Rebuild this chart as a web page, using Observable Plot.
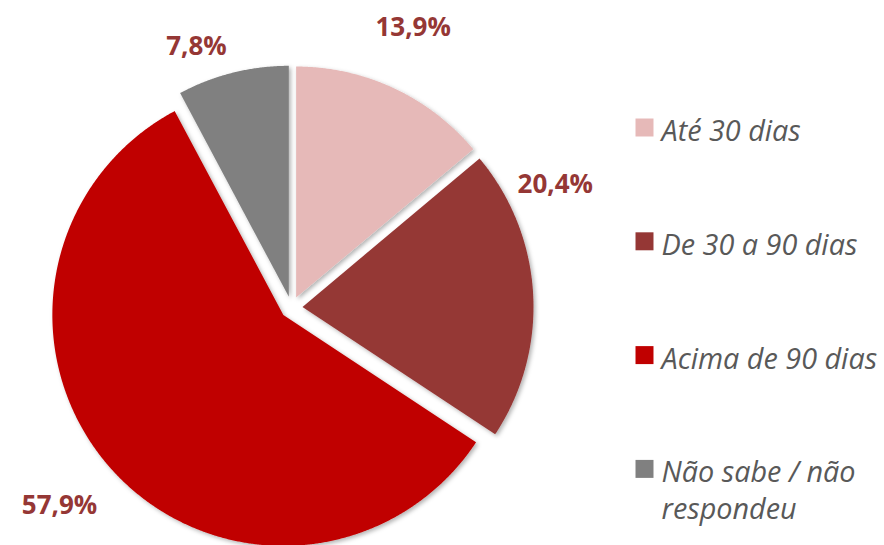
<!DOCTYPE html>
<html><head><meta charset="utf-8">
<script src="https://cdn.jsdelivr.net/npm/d3@7"></script>
<script src="https://cdn.jsdelivr.net/npm/@observablehq/plot@0.6"></script>
<style>body{margin:0;background:#fff;overflow:hidden}</style>
</head><body><div id="chart"></div>
<script>
// ---- data ----
const categories = ["Até 30 dias", "De 30 a 90 dias", "Acima de 90 dias", "Não sabe / não respondeu"];
const values = [13.9, 20.4, 57.9, 7.8];
const valueLabels = ["13,9%", "20,4%", "57,9%", "7,8%"];
const legendLabels = ["Até 30 dias", "De 30 a 90 dias", "Acima de 90 dias", "Não sabe / não\nrespondeu"];
const colors = ["#E6B9B8", "#953735", "#C00000", "#808080"];

// ---- layout ----
const W = 884, H = 545;
const cx = 291, cy = 307, R = 231, explode = 11;
const labelPolar = [[23.5, 305], [65, 291], [229.5, 305], [340, 278]]; // angle (deg), radius
const legendX = 644, legendTextX = 661, legendY0 = 127, legendStep = 113.8;
const fontFamily = "'Open Sans', 'Noto Sans', sans-serif";

const arcs = d3.pie().sort(null).value(d => d)(values);
const points = [];
arcs.forEach((a, i) => {
  const mid = (a.startAngle + a.endAngle) / 2;
  const ox = cx + explode * Math.sin(mid), oy = cy - explode * Math.cos(mid);
  points.push({cat: categories[i], x: ox, y: oy});
  const n = Math.max(2, Math.ceil((a.endAngle - a.startAngle) / 0.005));
  for (let k = 0; k <= n; k++) {
    const t = a.startAngle + (a.endAngle - a.startAngle) * k / n;
    points.push({cat: categories[i], x: ox + R * Math.sin(t), y: oy - R * Math.cos(t)});
  }
});
const labels = arcs.map((a, i) => {
  const [deg, r] = labelPolar[i];
  const t = deg * Math.PI / 180;
  return {text: valueLabels[i], x: cx + r * Math.sin(t), y: cy - r * Math.cos(t)};
});
const legend = categories.map((c, i) => ({cat: c, label: legendLabels[i], y: legendY0 + i * legendStep}));

const chart = Plot.plot({
  width: W, height: H,
  margin: 0,
  x: {domain: [0, W], range: [0, W], axis: null},
  y: {domain: [0, H], range: [0, H], axis: null},
  color: {domain: categories, range: colors},
  style: {background: "#fff", fontFamily},
  marks: [
    Plot.line(points, {x: "x", y: "y", z: "cat", fill: "cat", stroke: "none", curve: "linear-closed"}),
    Plot.text(labels, {x: "x", y: "y", text: "text", fill: "#953735", fontWeight: "bold", fontSize: 26, fontFamily}),
    Plot.dot(legend, {x: () => legendX, y: "y", fill: "cat", symbol: "square", r: 10.15, stroke: "none"}),
    Plot.text(legend, {x: () => legendTextX, y: d => d.y - 12.7, text: "label", textAnchor: "start", lineAnchor: "top",
      fontSize: 28.8, fontStyle: "italic", fill: "#595959", lineHeight: 1.28, fontFamily})
  ]
});
// subtle drop shadow on the slices
const ns = "http://www.w3.org/2000/svg";
const defs = document.createElementNS(ns, "defs");
defs.innerHTML = '<filter id="shadow" x="-10%" y="-10%" width="130%" height="130%"><feDropShadow dx="2" dy="2" stdDeviation="2" flood-color="#000" flood-opacity="0.3"/></filter>';
chart.insertBefore(defs, chart.firstChild);
const g = chart.querySelector('g[aria-label="line"]');
if (g) g.setAttribute("filter", "url(#shadow)");
document.getElementById("chart").appendChild(chart);
</script>
</body></html>
